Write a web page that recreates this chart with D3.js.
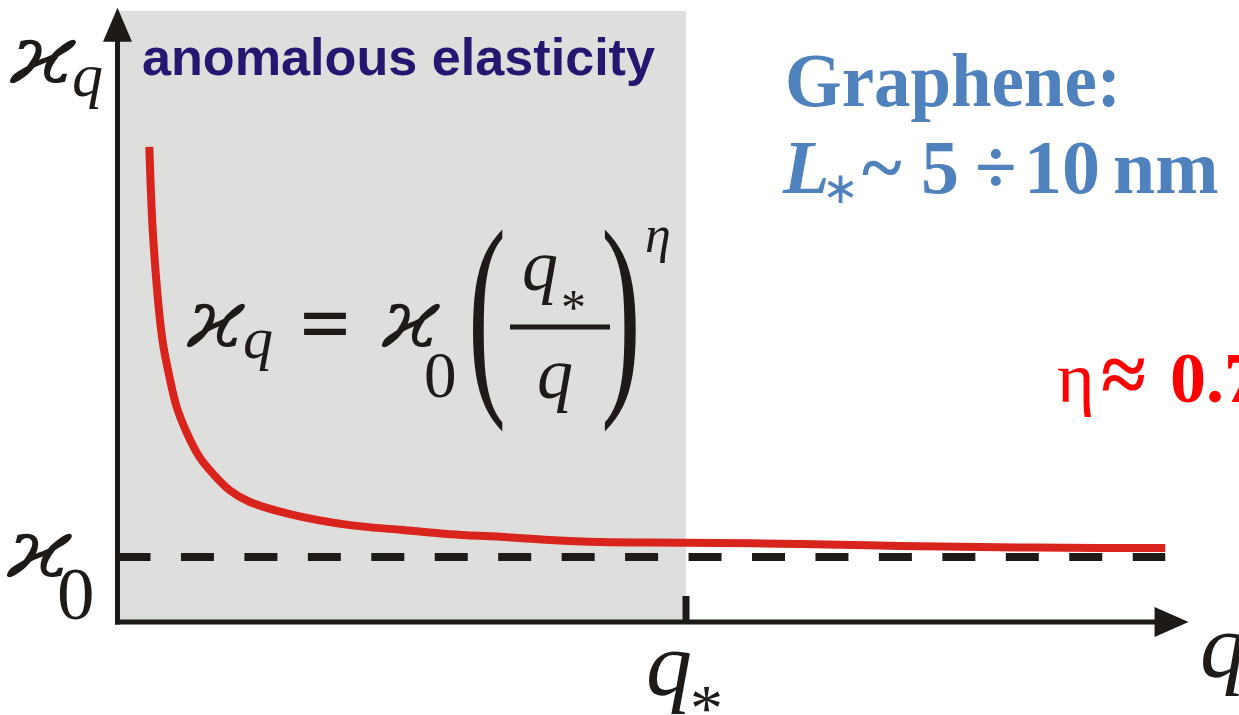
<!DOCTYPE html>
<html><head><meta charset="utf-8">
<script src="https://cdn.jsdelivr.net/npm/d3@7"></script>
<style>html,body{margin:0;padding:0;background:#fff;overflow:hidden}</style>
</head><body>
<svg id="c" width="1239" height="715"></svg>
<script>
// ---- data (q in units of q*, kappa in units of kappa0) ----
const curveQ = [0.056, 0.063, 0.079, 0.090, 0.104, 0.122, 0.144, 0.167, 0.197, 0.232, 0.303, 0.409, 0.497, 0.585, 0.673, 0.761, 0.849, 1.0, 1.201, 1.377, 1.553, 1.729, 1.843];
const curveK = [7.31, 5.88, 4.34, 3.83, 3.31, 2.91, 2.54, 2.29, 2.03, 1.85, 1.66, 1.49, 1.42, 1.35, 1.31, 1.26, 1.23, 1.22, 1.20, 1.17, 1.15, 1.14, 1.14];
const kappa0 = 1;
const qStar = 1;
const qMax = 1.884;     // end of q axis (arrow tip)
const kMax = 9.45;      // end of kappa axis (arrow tip)
const dashEnd = 1.843;

const svg = d3.select("#c");
const x = d3.scaleLinear().domain([0, 1]).range([117.5, 686]);
const y = d3.scaleLinear().domain([0, 1]).range([622, 557]);

// shaded anomalous region
svg.append("rect").attr("x", x(0)).attr("y", 11)
  .attr("width", x(qStar) - x(0)).attr("height", y(0) - 11)
  .attr("fill", "#dededc");

// dashed kappa0 line
svg.append("line").attr("x1", x(0)).attr("x2", x(dashEnd))
  .attr("y1", y(kappa0)).attr("y2", y(kappa0))
  .attr("stroke", "#1e1a17").attr("stroke-width", 8)
  .attr("stroke-dasharray", "33,30.45");

// red curve
const pts = curveQ.map((q, i) => [q, curveK[i]]);
svg.append("path").datum(pts)
  .attr("d", d3.line().x(d => x(d[0])).y(d => y(d[1])).curve(d3.curveCatmullRom.alpha(0.5)))
  .attr("fill", "none").attr("stroke", "#d9241d").attr("stroke-width", 8);

// axes
const axCol = "#1e1a17";
const yTip = y(kMax), xTip = x(qMax);
svg.append("line").attr("x1", x(0)).attr("x2", x(0)).attr("y1", y(0) + 2.5).attr("y2", yTip + 30)
  .attr("stroke", axCol).attr("stroke-width", 5);
svg.append("path").attr("d", `M${x(0)},${yTip} L${x(0) - 14.5},${yTip + 34} L${x(0) + 14.5},${yTip + 34} Z`).attr("fill", axCol);
svg.append("line").attr("x1", x(0) - 2.5).attr("x2", xTip - 30).attr("y1", y(0)).attr("y2", y(0))
  .attr("stroke", axCol).attr("stroke-width", 5);
svg.append("path").attr("d", `M${xTip},${y(0)} L${xTip - 34},${y(0) - 15} L${xTip - 34},${y(0) + 15} Z`).attr("fill", axCol);
// q* tick
svg.append("line").attr("x1", x(qStar)).attr("x2", x(qStar)).attr("y1", y(0)).attr("y2", y(0) - 26)
  .attr("stroke", axCol).attr("stroke-width", 7);

const serif = "'Liberation Serif', 'Times New Roman', serif";
const kapFont = "'DejaVu Serif', serif";
function t(xp, yp, str, size, opts = {}) {
  const el = svg.append("text").attr("x", xp).attr("y", yp).text(str)
    .attr("font-size", size).attr("font-family", opts.family || serif)
    .attr("fill", opts.fill || "#1e1a17");
  if (opts.italic) el.attr("font-style", "italic");
  if (opts.bold) el.attr("font-weight", "bold");
  if (opts.anchor) el.attr("text-anchor", opts.anchor);
  if (opts.len) el.attr("textLength", opts.len).attr("lengthAdjust", "spacingAndGlyphs");
  return el;
}

// axis labels
t(10, 83, "ϰ", 80, {family: kapFont, italic: true, len: 66});
t(72, 96, "q", 62, {italic: true});
t(7, 577, "ϰ", 80, {family: kapFont, italic: true, len: 65});
t(57, 619, "0", 75);
t(646, 695, "q", 92, {italic: true});
t(690, 730, "*", 66);
t(1200, 677, "q", 92, {italic: true});

// title in the shaded region
t(142, 75, "anomalous elasticity", 52, {family: "'Liberation Sans', Arial, sans-serif", bold: true, fill: "#271670", len: 513});

// formula
t(187, 347, "ϰ", 80, {family: kapFont, italic: true, len: 58});
t(243, 358, "q", 60, {italic: true});
t(325, 349, "=", 80, {family: kapFont, anchor: "middle", len: 56});
t(382, 347, "ϰ", 80, {family: kapFont, italic: true, len: 58});
t(424, 397, "0", 65);
t(468, 384, "(", 222, {len: 38});
t(601, 384, ")", 222, {len: 40});
t(522, 290, "q", 72, {italic: true});
t(561, 324, "*", 50);
svg.append("line").attr("x1", 510).attr("x2", 610).attr("y1", 327).attr("y2", 327)
  .attr("stroke", "#1e1a17").attr("stroke-width", 5);
t(537, 398, "q", 72, {italic: true});
t(645, 252, "η", 52, {italic: true});

// Graphene note
const blue = "#4f81bd";
t(785, 106, "Graphene:", 76, {bold: true, fill: blue, len: 336});
const l2 = svg.append("text").attr("y", 193)
  .attr("font-family", serif).attr("font-size", 76).attr("font-weight", "bold").attr("fill", blue);
l2.append("tspan").attr("x", 783).attr("font-style", "italic").text("L");
l2.append("tspan").attr("x", 822).attr("y", 203).attr("font-size", 44).attr("font-weight", "normal").text("∗");
l2.append("tspan").attr("x", 862).attr("y", 193).text("~");
l2.append("tspan").attr("x", 921).text("5");
l2.append("tspan").attr("x", 975).text("÷");
l2.append("tspan").attr("x", 1024).text("10");
l2.append("tspan").attr("x", 1113).text("nm");

// eta value (cut by the right edge)
const e = svg.append("text").attr("x", 1057).attr("y", 402)
  .attr("font-family", serif).attr("font-size", 72).attr("fill", "#ff0000");
e.append("tspan").text("η");
e.append("tspan").attr("x", 1101).attr("font-weight", "bold").attr("font-size", 82).text("≈");
e.append("tspan").attr("x", 1170).attr("font-weight", "bold").text("0.7");
</script>
</body></html>
